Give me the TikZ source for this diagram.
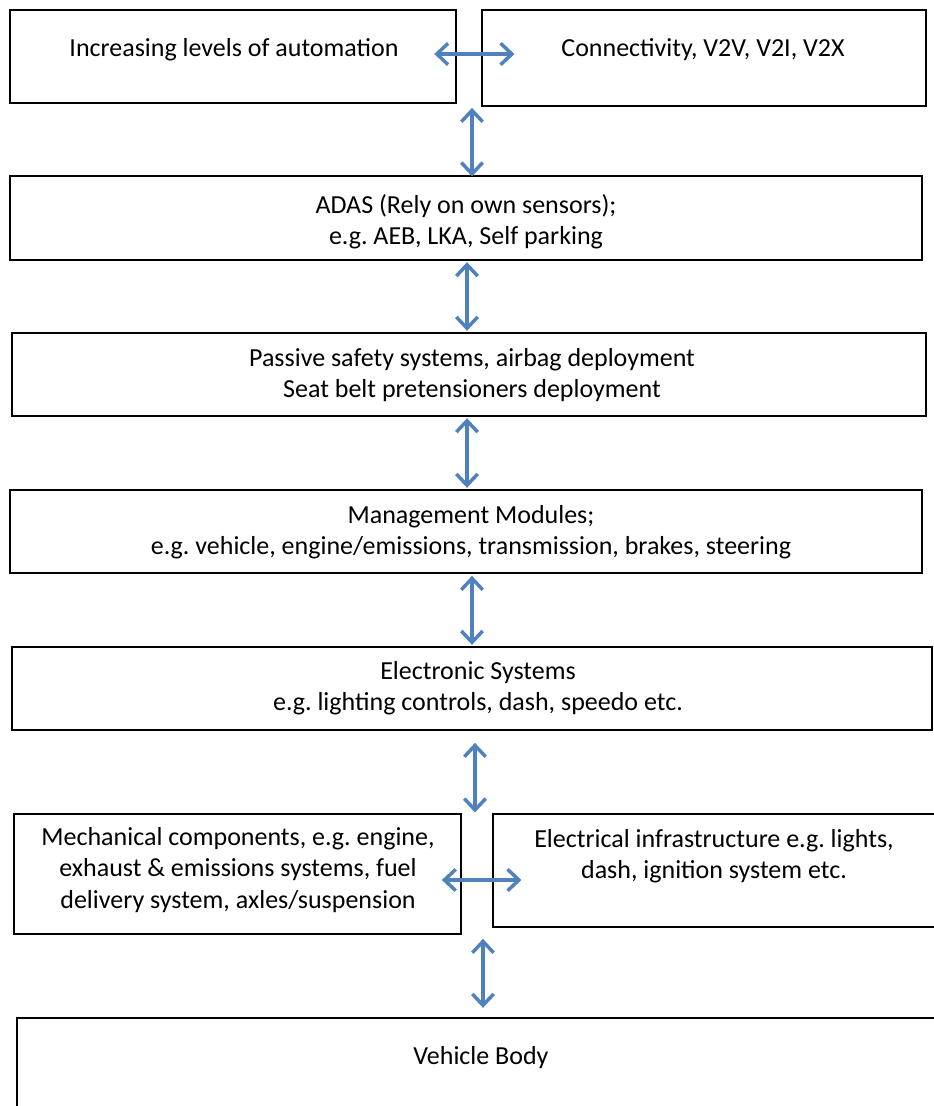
\documentclass[tikz,border=0pt]{standalone}
\usepackage{fontspec}
\setmainfont{Carlito}
\usetikzlibrary{arrows.meta}
\frenchspacing
\newlength{\upx}\setlength{\upx}{0.75pt}
\definecolor{arrowblue}{RGB}{79,129,189}
\tikzset{
  box/.style={draw=black, line width=1.3pt, fill=none, inner sep=0pt},
  txt/.style={align=center, inner sep=0pt, font=\fontsize{19.5}{23.5}\selectfont},
  dbl/.style={draw=arrowblue, line width=2.6pt,
    {Straight Barb[length=8.5pt,width=16pt]}-{Straight Barb[length=8.5pt,width=16pt]}}
}
\begin{document}
\begin{tikzpicture}[x=0.75pt,y=-0.75pt]
\useasboundingbox (0,0) rectangle (933,1106);
% boxes
\node[box, minimum width=446\upx, minimum height=93\upx]  (A)  at (233,56.5) {};
\node[box, minimum width=444\upx, minimum height=96\upx]  (B)  at (704,58) {};
\node[box, minimum width=912\upx, minimum height=84\upx]  (C)  at (466,218) {};
\node[box, minimum width=914\upx, minimum height=83\upx]  (P)  at (469,374.5) {};
\node[box, minimum width=912\upx, minimum height=83\upx]  (M)  at (466,531.5) {};
\node[box, minimum width=920\upx, minimum height=83\upx]  (E)  at (472,688.5) {};
\node[box, minimum width=447\upx, minimum height=120\upx] (MC) at (237.5,874) {};
\node[box, minimum width=447\upx, minimum height=113\upx] (EL) at (716.5,870.5) {};
\node[box, minimum width=928\upx, minimum height=112\upx] (VB) at (481,1074) {};
% texts
\node[txt] (tA)  at (234,50) {Increasing levels of automation};
\node[txt] (tB)  at (703,50) {Connectivity, V2V, V2I, V2X};
\node[txt] (tC)  at (466,222) {ADAS (Rely on own sensors);\\e.g. AEB, LKA, Self parking};
\node[txt] (tP)  at (472,375) {Passive safety systems, airbag deployment\\Seat belt pretensioners deployment};
\node[txt] (tM)  at (471,532) {Management Modules;\\e.g. vehicle, engine/emissions, transmission, brakes, steering};
\node[txt] (tE)  at (478,688) {Electronic Systems\\e.g. lighting controls, dash, speedo etc.};
\node[txt] (tMC) at (238,870) {Mechanical components, e.g. engine,\\exhaust \& emissions systems, fuel\\delivery system, axles/suspension};
\node[txt] (tEL) at (714,856) {Electrical infrastructure e.g. lights,\\dash, ignition system etc.};
\node[txt] (tVB) at (481,1058) {Vehicle Body};
% connectors
\draw[dbl] ([xshift=-17pt]A.east |- 0,54) -- ([xshift=25pt]B.west |- 0,54);
\draw[dbl] ([yshift=-3pt]A.south -| 472,0) -- ([yshift=-1pt]C.north -| 472,0);
\draw[dbl] ([yshift=-1pt]C.south -| 467,0) -- ([yshift=1pt]P.north -| 467,0);
\draw[dbl] ([yshift=-1pt]P.south -| 467,0) -- ([yshift=1pt]M.north -| 467,0);
\draw[dbl] ([yshift=-1.5pt]M.south -| 472,0) -- ([yshift=1pt]E.north -| 472,0);
\draw[dbl] ([yshift=-9pt]E.south -| 475,0) -- ([yshift=0.5pt]MC.north -| 475,0);
\draw[dbl] ([xshift=-15pt]MC.east |- 0,880) -- ([xshift=22pt]EL.west |- 0,880);
\draw[dbl] ([yshift=-3pt]MC.south -| 483,0) -- ([yshift=7pt]VB.north -| 483,0);
\end{tikzpicture}
\end{document}
